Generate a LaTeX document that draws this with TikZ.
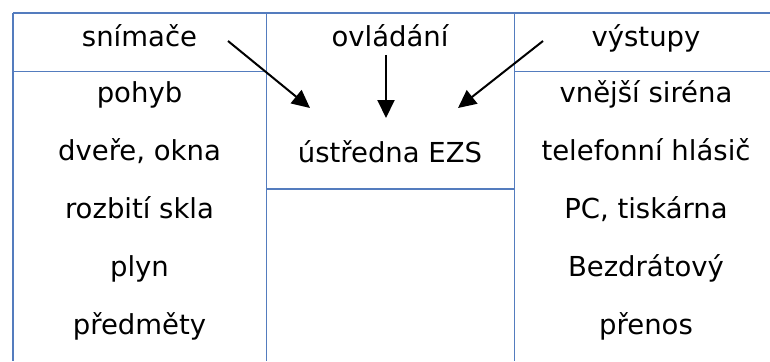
\documentclass[tikz,border=0pt]{standalone}
\usepackage{fontspec}
\setmainfont{DejaVu Sans}
\usetikzlibrary{arrows.meta}

\definecolor{ramecek}{RGB}{84,124,190}

\begin{document}
\begin{tikzpicture}[x=1pt,y=-1pt,
    cara/.style={draw=ramecek,line width=1.8pt},
    popis/.style={anchor=base,inner sep=0pt,font=\fontsize{27.5}{33}\selectfont},
    sipka/.style={draw=black,line width=2pt,-{Triangle[length=18pt,width=17pt]}}]
                \useasboundingbox (0,0) rectangle (770,361);
                % Draw the table lines
                \draw[cara] (13,13) -- (770,13);
                \foreach \x in {13,266.5,514.5}{
                    \draw[cara] (\x,13) -- (\x,361);
                }
                \draw[cara] (13,71.5) -- (266.5,71.5);
                \draw[cara] (514.5,71.5) -- (770,71.5);
                \draw[cara] (266.5,189) -- (514.5,189);
                % Draw the headers
                \node[popis] (snimace) at (139.5,46.5) {snímače};
                \node[popis] (ovladani) at (390,46.5) {ovládání};
                \node[popis] (vystupy) at (646,46.5) {výstupy};
                \node[popis] (ustredna) at (390,162.5) {ústředna EZS};
                % Draw the rows of both side columns
                \foreach \txt [count=\i] in {pohyb,{dveře, okna},rozbití skla,plyn,předměty}{
                    \node[popis] (snim\i) at (139.5,44+58*\i) {\txt};
                }
                \foreach \txt [count=\i] in {vnější siréna,telefonní hlásič,{PC, tiskárna},Bezdrátový,přenos}{
                    \node[popis] (vyst\i) at (646,44+58*\i) {\txt};
                }
                % Draw the arrows into the centre
                \coordinate (zacS) at (228,41);
                \coordinate (konS) at (310,108);
                \coordinate (zacO) at (386,55);
                \coordinate (konO) at (386,118);
                \coordinate (zacV) at (543,41);
                \coordinate (konV) at (458,108);
                \draw[sipka] (zacS) -- (konS);
                \draw[sipka] (zacO) -- (konO);
                \draw[sipka] (zacV) -- (konV);
            \end{tikzpicture}
\end{document}
